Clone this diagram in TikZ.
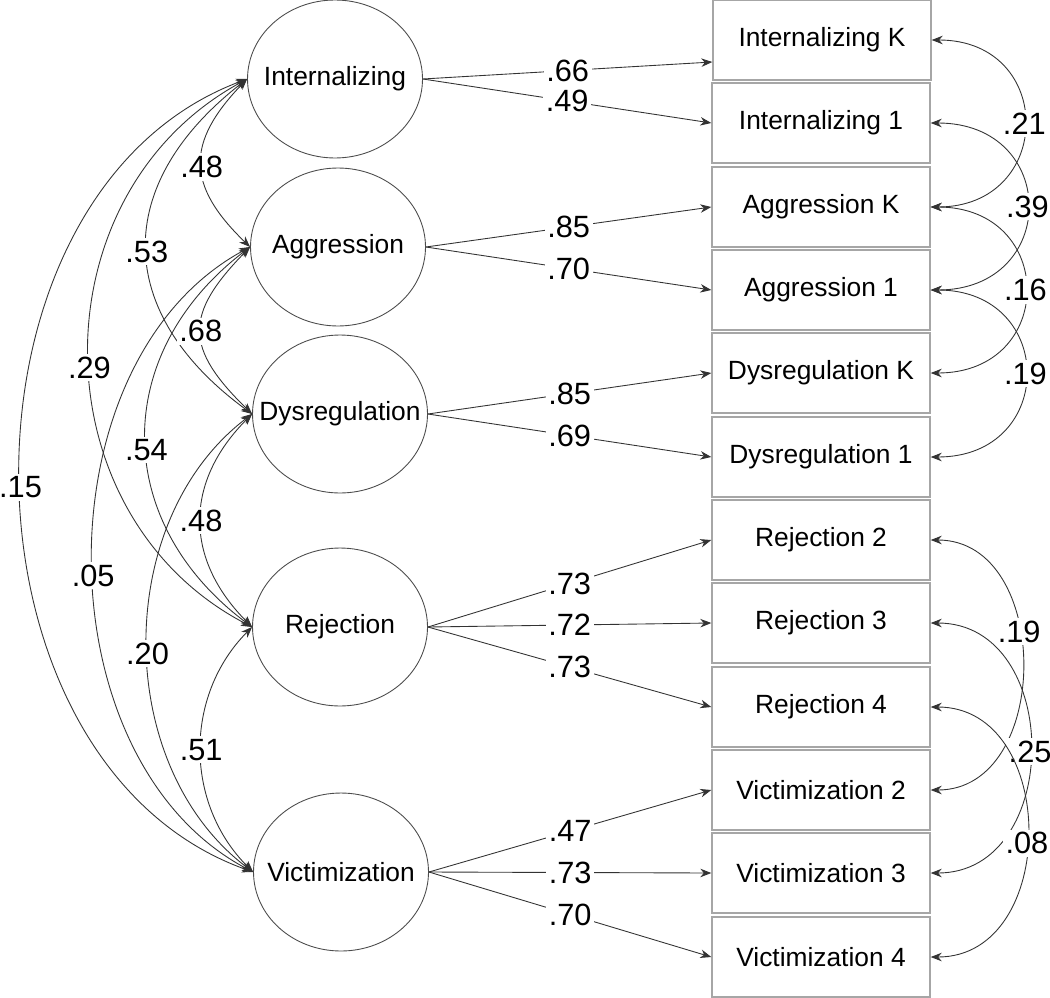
\documentclass[tikz,border=0pt]{standalone}
\usepackage{fontspec}
\setmainfont{Liberation Sans}
\usetikzlibrary{arrows.meta,shapes.geometric}

\begin{document}
\begin{tikzpicture}[x=0.02cm, y=0.02cm,
    >={Stealth[length=2.2mm, width=1.7mm, inset=0.7mm]},
    latent/.style={ellipse, draw=black!70, line width=0.5pt, minimum width=3.5cm, minimum height=3.16cm, inner sep=0pt, font=\fontsize{15}{18}\selectfont},
    indicator/.style={rectangle, draw=black!35, line width=0.8pt, minimum width=4.36cm, minimum height=1.6cm, inner sep=0pt, font=\fontsize{15}{18}\selectfont},
    loading/.style={->, draw=black!80, line width=0.5pt},
    covar/.style={<->, draw=black!80, line width=0.5pt},
    coef/.style={fill=white, inner sep=1.5pt, font=\fontsize{17.5}{20}\selectfont}]
    \useasboundingbox (0,0) rectangle (1050,-997);

    % Draw the latent factors
    \node[latent] (intz) at (335,-79) {\makebox[0pt]{Internalizing}};
    \node[latent] (aggr) at (338,-247) {\makebox[0pt]{Aggression}};
    \node[latent] (dysr) at (340,-414) {\makebox[0pt]{Dysregulation}};
    \node[latent] (rejc) at (340,-627) {\makebox[0pt]{Rejection}};
    \node[latent] (vict) at (341,-872) {\makebox[0pt]{Victimization}};

    % Draw the observed indicators
    \node[indicator] (intK) at (822,-40) {Internalizing K};
    \node[indicator] (int1) at (821,-123) {Internalizing 1};
    \node[indicator] (aggK) at (821,-207) {Aggression K};
    \node[indicator] (agg1) at (821,-290) {Aggression 1};
    \node[indicator] (dysK) at (821,-373) {Dysregulation K};
    \node[indicator] (dys1) at (821,-457) {Dysregulation 1};
    \node[indicator] (rej2) at (821,-540) {Rejection 2};
    \node[indicator] (rej3) at (821,-623) {Rejection 3};
    \node[indicator] (rej4) at (821,-707) {Rejection 4};
    \node[indicator] (vic2) at (821,-790) {Victimization 2};
    \node[indicator] (vic3) at (821,-873) {Victimization 3};
    \node[indicator] (vic4) at (821,-957) {Victimization 4};

    % Draw the factor loadings
    \draw[loading] (intz.east) -- node[coef]{.66} ([yshift=-0.44cm]intK.west);
    \draw[loading] (intz.east) -- node[coef]{.49} (int1.west);
    \draw[loading] (aggr.east) -- node[coef]{.85} (aggK.west);
    \draw[loading] (aggr.east) -- node[coef]{.70} (agg1.west);
    \draw[loading] (dysr.east) -- node[coef]{.85} (dysK.west);
    \draw[loading] (dysr.east) -- node[coef]{.69} (dys1.west);
    \draw[loading] (rejc.east) -- node[coef]{.73} (rej2.west);
    \draw[loading] (rejc.east) -- node[coef]{.72} (rej3.west);
    \draw[loading] (rejc.east) -- node[coef]{.73} (rej4.west);
    \draw[loading] (vict.east) -- node[coef]{.47} (vic2.west);
    \draw[loading] (vict.east) -- node[coef]{.73} (vic3.west);
    \draw[loading] (vict.east) -- node[coef]{.70} (vic4.west);

    % Draw the factor correlations
    \draw[covar] (intz.west) to[bend right=45, looseness=1.35] node[coef, pos=0.52]{.48} (aggr.west);
    \draw[covar] (intz.west) to[bend right=53, looseness=1.31] node[coef, pos=0.51]{.53} (dysr.west);
    \draw[covar] (intz.west) to[bend right=62, looseness=1.13] node[coef, pos=0.52]{.29} (rejc.west);
    \draw[covar] (intz.west) to[bend right=70, looseness=1.05] node[coef, pos=0.51]{.15} (vict.west);
    \draw[covar] (aggr.west) to[bend right=45, looseness=1.45] node[coef]{.68} (dysr.west);
    \draw[covar] (aggr.west) to[bend right=53, looseness=1.18] node[coef, pos=0.53]{.54} (rejc.west);
    \draw[covar] (aggr.west) to[bend right=62, looseness=0.98] node[coef, pos=0.52]{.05} (vict.west);
    \draw[covar] (dysr.west) to[bend right=45, looseness=1.16] node[coef]{.48} (rejc.west);
    \draw[covar] (dysr.west) to[bend right=53, looseness=0.98] node[coef, pos=0.52]{.20} (vict.west);
    \draw[covar] (rejc.west) to[bend right=45, looseness=1.01] node[coef]{.51} (vict.west);

    % Draw the residual correlations
    \draw[covar] (intK.east) to[out=0, in=0, looseness=1.90] node[coef]{.21} (aggK.east);
    \draw[covar] (int1.east) to[out=0, in=0, looseness=1.98] node[coef]{.39} (agg1.east);
    \draw[covar] (aggK.east) to[out=0, in=0, looseness=1.95] node[coef]{.16} (dysK.east);
    \draw[covar] (agg1.east) to[out=0, in=0, looseness=1.94] node[coef]{.19} (dys1.east);
    \draw[covar] (rej2.east) to[out=0, in=0, looseness=1.25] node[coef, pos=0.41]{.19} (vic2.east);
    \draw[covar] (rej3.east) to[out=0, in=0, looseness=1.36] node[coef, pos=0.51]{.25} (vic3.east);
    \draw[covar] (rej4.east) to[out=0, in=0, looseness=1.32] node[coef, pos=0.53]{.08} (vic4.east);
\end{tikzpicture}
\end{document}
